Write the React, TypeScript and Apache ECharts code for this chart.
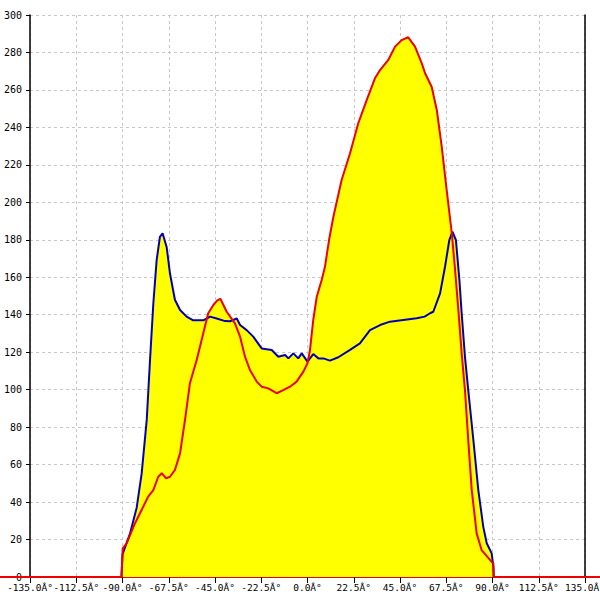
import React, { useEffect, useRef } from "react";
import * as echarts from "echarts";

const xTicks = { min: -135, max: 135, interval: 22.5 };
const yTicks = { min: 0, max: 300, interval: 20 };
const degreeSuffix = "Â°";

const blueAngles = [-135, -90.5, -90, -86.4, -83.1, -80.7, -78.2, -76.6, -75, -73.4, -71.8, -70.5, -68.5, -66.9, -64.5, -62, -58.8, -55.6, -50.7, -47.4, -44.2, -40.1, -37.7, -34.4, -32.8, -29.6, -26.4, -22.3, -17.4, -14.2, -10.9, -9.3, -6.9, -4.5, -2.8, 0, 2.8, 5.3, 7.7, 10.9, 15, 20.7, 25.5, 30.4, 35.3, 40.1, 46.6, 53.1, 57, 59.6, 61.2, 64.5, 66.9, 69, 70.5, 72.2, 73.9, 75, 76.6, 78.2, 80.7, 83.1, 85.5, 87.2, 89.6, 90.4, 90.6, 135];
const blueValues = [0, 0, 12, 23, 37, 55, 84, 116, 146, 169, 181.6, 183.5, 176, 162, 148, 142.5, 139, 137, 137, 139, 138, 136.6, 136.5, 138, 134.5, 131.8, 128.3, 122, 121.2, 117.6, 118.5, 116.7, 119.4, 116.7, 119.4, 115, 119, 116.7, 116.7, 115.5, 117.3, 121.2, 124.7, 131.8, 134.5, 136.3, 137.2, 138.1, 139, 140.8, 141.6, 151.4, 165.6, 179.9, 184.3, 179.9, 158.5, 140.8, 117.6, 99.8, 73.1, 46.4, 26.9, 18, 12.6, 5.5, 0, 0];

const redAngles = [-135, -90.5, -89.9, -88, -83.9, -80.7, -77.5, -75, -72.6, -70.9, -68.8, -66.9, -64.5, -62, -59.6, -57.2, -53.9, -50.7, -48.3, -45.8, -44, -42.4, -39.3, -35.3, -32.8, -30.4, -28, -24.7, -22.3, -19.1, -15, -11.8, -8.5, -5.3, -2, 0, 1.2, 2.8, 4.5, 6.9, 8.5, 10.5, 12.6, 16.6, 20.7, 24.7, 28.8, 32.8, 35.3, 39.3, 42.6, 45.8, 49, 52.3, 55.6, 57.2, 60.4, 62.9, 65.3, 67.7, 70.2, 71.8, 73.4, 75, 76.6, 78.2, 79.9, 82.3, 84.7, 88.8, 90.4, 90.6, 135];
const redValues = [0, 0, 15.3, 18, 28.7, 35.8, 42.9, 46.4, 53.5, 55.4, 52.7, 53.5, 57.1, 66, 83.8, 103.4, 115.8, 130.1, 140.8, 145.2, 147.5, 148.5, 141.6, 135.4, 128.3, 117.6, 110.5, 104.3, 101.6, 100.7, 98.1, 99.8, 101.6, 104.3, 109.6, 114.1, 121, 137.2, 149.6, 158.5, 165.6, 180, 192.3, 211.9, 226.2, 242.2, 254.6, 266.2, 270.6, 276, 283.1, 286.6, 288.1, 283.1, 274.2, 268.9, 261.7, 249.3, 229.7, 206.6, 183.5, 163.9, 142.5, 119.4, 99.8, 73.1, 46.4, 23.3, 14.4, 9.1, 7.3, 0, 0];

const pairs = (xs: number[], ys: number[]) => xs.map((x, i) => [x, ys[i]]);

export default function App() {
  const ref = useRef<HTMLDivElement>(null);
  useEffect(() => {
    const chart = echarts.init(ref.current!, null, { renderer: "svg" });
    const blue = pairs(blueAngles, blueValues);
    const red = pairs(redAngles, redValues);
    const font = "DejaVu Sans Mono";
    const grid = { lineStyle: { color: "#c8c8c8", type: [3, 3] as any, width: 1 } };
    chart.setOption({
      animation: false,
      backgroundColor: "#ffffff",
      grid: { left: 30, right: 15, top: 15, bottom: 23, containLabel: false, outerBoundsMode: "none" },
      xAxis: {
        type: "value",
        min: xTicks.min,
        max: xTicks.max,
        interval: xTicks.interval,
        axisLine: { show: true, onZero: false, lineStyle: { color: "#ee0000", width: 2 } },
        axisTick: { show: true, length: 6, lineStyle: { color: "#000", width: 1 } },
        axisLabel: {
          color: "#000",
          fontFamily: font,
          fontSize: 9.5,
          margin: 5,
          interval: 0,
          hideOverlap: false,
          showMinLabel: true,
          showMaxLabel: true,
          formatter: (v: number) => v.toFixed(1) + degreeSuffix,
        },
        splitLine: { show: true, ...grid },
      },
      yAxis: [
        {
          type: "value",
          min: yTicks.min,
          max: yTicks.max,
          interval: yTicks.interval,
          axisLine: { show: true, onZero: false, lineStyle: { color: "#000", width: 1.5 } },
          axisTick: { show: true, length: 4, lineStyle: { color: "#000", width: 1 } },
          axisLabel: { color: "#000", fontFamily: font, fontSize: 10, margin: 8 },
          splitLine: { show: true, ...grid },
        },
        {
          type: "value",
          position: "right",
          min: yTicks.min,
          max: yTicks.max,
          interval: yTicks.interval,
          axisLine: { show: true, onZero: false, lineStyle: { color: "#000", width: 1.5 } },
          axisTick: { show: false },
          axisLabel: { show: false },
          splitLine: { show: false },
        },
      ],
      graphic: [
        { type: "line", shape: { x1: 0, y1: 577, x2: 30, y2: 577 }, style: { stroke: "#ee0000", lineWidth: 2 }, z: 10 },
        { type: "line", shape: { x1: 585, y1: 577, x2: 600, y2: 577 }, style: { stroke: "#ee0000", lineWidth: 2 }, z: 10 },
      ],
      series: [
        { type: "line", data: blue, symbol: "none", lineStyle: { width: 0 }, areaStyle: { color: "#ffff00", opacity: 1 }, z: 1 },
        { type: "line", data: red, symbol: "none", lineStyle: { width: 0 }, areaStyle: { color: "#ffff00", opacity: 1 }, z: 1 },
        { type: "line", data: blue, symbol: "none", lineStyle: { width: 2, color: "#0000bb" }, z: 3 },
        { type: "line", data: red, symbol: "none", lineStyle: { width: 2, color: "#ee0000" }, z: 4 },
      ],
    });
    return () => chart.dispose();
  }, []);
  return <div ref={ref} style={{ position: "fixed", left: 0, top: 0, width: 600, height: 600 }} />;
}
